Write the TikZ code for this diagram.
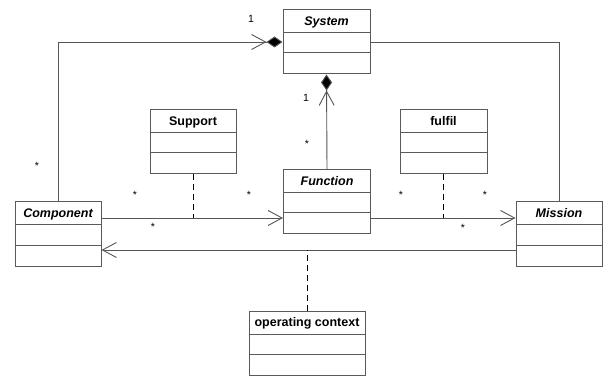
\documentclass[tikz,border=0pt]{standalone}
\usepackage{fontspec}
\setmainfont{Liberation Sans}
\usetikzlibrary{arrows.meta,shapes.multipart}
\definecolor{lgray}{HTML}{555555}
\definecolor{bgray}{HTML}{5a5a5a}
\newcommand{\classname}[1]{\rule[-7pt]{0pt}{22pt}#1}
\newcommand{\classrows}{\nodepart{two}\rule{0pt}{19pt}\nodepart{three}\rule{0pt}{20pt}}

\begin{document}
\begin{tikzpicture}[x=1pt, y=-1pt,
		classbox/.style={draw=bgray, line width=1pt, fill=white, rectangle split, rectangle split parts=3,
			inner xsep=2pt, inner ysep=0pt, minimum width=87pt, font=\fontsize{12.5}{14}\bfseries},
		abstractbox/.style={classbox, font=\fontsize{12.5}{14}\bfseries\itshape},
		assoc/.style={draw=lgray, line width=0.9pt},
		navig/.style={assoc, -{Straight Barb[length=14pt, width=15pt]}},
		compos/.style={assoc, -{Straight Barb[length=14pt, width=15pt] Diamond[length=16pt, width=11pt, fill=black]}},
		linkdash/.style={draw=black, line width=0.9pt, dash pattern=on 6pt off 4pt},
		mult/.style={font=\fontsize{10.5}{12}\selectfont, inner sep=0pt}]
		\useasboundingbox (0,0) rectangle (603,377);
		% classes
		\node[abstractbox] (sys) at (326.5,42) {\classname{System}\classrows};
		\node[abstractbox] (fun) at (327,202) {\classname{Function}\classrows};
		\node[abstractbox, minimum width=86pt] (cmp) at (58,234) {\classname{Component}\classrows};
		\node[abstractbox, minimum width=86pt] (mis) at (559,234) {\classname{Mission}\classrows};
		\node[classbox, minimum width=86pt] (sup) at (193,142) {\classname{Support}\classrows};
		\node[classbox] (ful) at (443.5,142) {\classname{fulfil}\classrows};
		\node[classbox, minimum width=116pt] (opc) at (307,343) {\classname{operating context}\classrows};
		% points on the association lines
		\coordinate (cf) at ([yshift=16pt]cmp.east);
		\coordinate (fm) at ([yshift=-16pt]fun.east);
		\coordinate (mc) at ([yshift=-16pt]mis.west);
		% associations
		\draw[compos] (cmp.north) |- (sys.west);
		\draw[compos] (fun.north) -- (sys.south);
		\draw[assoc] (sys.east) -| (mis.north);
		\draw[navig] (cf) -- ([yshift=-16pt]fun.west);
		\draw[navig] (fm) -- ([yshift=16pt]mis.west);
		\draw[navig] (mc) -- ([yshift=-16pt]cmp.east);
		% association classes
		\draw[linkdash] (sup.south) -- (sup.south |- cf);
		\draw[linkdash] (ful.south) -- (ful.south |- fm);
		\draw[linkdash] (opc.north) -- (opc.north |- mc);
		% multiplicities
		\node[mult] (m1) at (251,19) {1};
		\node[mult] (m2) at (37,166) {*};
		\node[mult] (m3) at (306,98) {1};
		\node[mult] (m4) at (307,144) {*};
		\node[mult] (m5) at (135,195) {*};
		\node[mult] (m6) at (249,195) {*};
		\node[mult] (m7) at (153,227) {*};
		\node[mult] (m8) at (401,195) {*};
		\node[mult] (m9) at (485,195) {*};
		\node[mult] (m10) at (463,228) {*};
	\end{tikzpicture}
\end{document}
